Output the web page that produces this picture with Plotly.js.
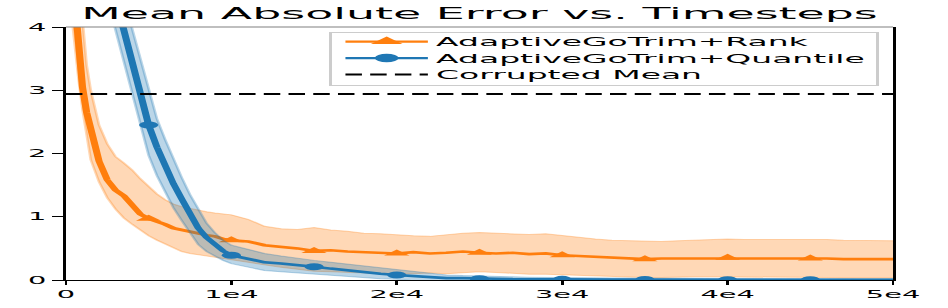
<!DOCTYPE html>
<html>
<head>
<meta charset="utf-8">
<script src="https://cdn.plot.ly/plotly-3.0.1.min.js"></script>
<style>
html,body{margin:0;padding:0;background:#fff;overflow:hidden;}
#wrap{width:948px;height:308px;overflow:hidden;position:relative;}
#plot{width:345px;height:308px;transform:scaleX(2.7478);transform-origin:0 0;}
</style>
</head>
<body>
<div id="wrap"><div id="plot"></div></div>
<script>
// Timesteps
const steps = [0,250,500,750,1000,1250,1500,2000,2500,3000,3500,4000,4500,5000,5500,6000,6500,7000,7500,8000,8500,9000,9500,10000,
  11000,12000,13000,14000,15000,16000,17000,18000,19000,20000,
  21000,22000,23000,24000,25000,26000,27000,28000,29000,30000,
  31000,32000,33000,34000,35000,36000,37000,38000,39000,40000,
  41000,42000,43000,44000,45000,46000,47000,48000,49000,50000];

// AdaptiveGoTrim+Rank
const rankMean = [6.0,5.2,4.4,3.6,3.05,2.65,2.35,1.88,1.58,1.42,1.33,1.2,1.04,0.97,0.93,0.88,0.82,0.79,0.77,0.74,0.71,0.69,0.65,0.63,
  0.61,0.55,0.53,0.50,0.46,0.47,0.45,0.44,0.43,0.42,
  0.44,0.42,0.43,0.45,0.43,0.42,0.43,0.41,0.42,0.39,
  0.38,0.37,0.35,0.34,0.33,0.34,0.34,0.35,0.35,0.35,
  0.35,0.34,0.35,0.35,0.34,0.34,0.33,0.33,0.33,0.33];
const rankUpper = [7.0,6.2,5.4,4.6,3.95,3.4,3.0,2.45,2.15,1.95,1.85,1.74,1.6,1.47,1.36,1.27,1.2,1.16,1.13,1.1,1.08,1.06,1.04,1.03,
  0.96,0.85,0.81,0.80,0.83,0.79,0.77,0.74,0.73,0.71,
  0.70,0.69,0.72,0.74,0.75,0.74,0.73,0.72,0.73,0.70,
  0.68,0.65,0.63,0.62,0.61,0.61,0.62,0.63,0.63,0.65,
  0.64,0.64,0.65,0.64,0.64,0.64,0.63,0.63,0.62,0.62];
const rankLower = [5.0,4.3,3.6,3.2,2.7,2.2,1.9,1.55,1.3,1.12,0.98,0.88,0.78,0.7,0.63,0.57,0.5,0.45,0.42,0.40,0.37,0.35,0.33,0.32,
  0.28,0.24,0.20,0.17,0.14,0.13,0.12,0.10,0.10,0.09,
  0.10,0.11,0.10,0.12,0.13,0.12,0.10,0.09,0.09,0.08,
  0.07,0.06,0.05,0.05,0.04,0.04,0.05,0.05,0.05,0.05,
  0.05,0.04,0.04,0.04,0.04,0.04,0.03,0.03,0.03,0.03];

// AdaptiveGoTrim+Quantile
const quantMean = [7.8,7.5,7.2,6.9,6.6,6.3,6.05,5.5,4.95,4.45,3.95,3.45,2.95,2.45,2.1,1.8,1.52,1.28,1.05,0.82,0.67,0.55,0.46,0.39,
  0.33,0.28,0.26,0.24,0.21,0.18,0.15,0.13,0.10,0.08,
  0.06,0.04,0.03,0.03,0.02,0.02,0.015,0.012,0.01,0.01,
  0.01,0.008,0.008,0.007,0.007,0.006,0.006,0.006,0.005,0.005,
  0.005,0.005,0.004,0.004,0.004,0.004,0.004,0.003,0.003,0.003];
const quantUpper = [8.3,8.0,7.7,7.4,7.1,6.8,6.55,6.0,5.45,4.95,4.45,3.95,3.45,2.93,2.55,2.22,1.9,1.62,1.35,1.1,0.9,0.75,0.63,0.55,
  0.48,0.42,0.38,0.34,0.31,0.28,0.25,0.22,0.19,0.16,
  0.13,0.10,0.08,0.07,0.06,0.055,0.05,0.045,0.04,0.04,
  0.035,0.035,0.03,0.03,0.03,0.028,0.026,0.025,0.025,0.024,
  0.023,0.022,0.022,0.021,0.02,0.02,0.02,0.019,0.018,0.018];
const quantLower = [7.3,7.0,6.7,6.4,6.1,5.8,5.55,5.0,4.45,3.95,3.45,2.95,2.45,1.97,1.65,1.38,1.14,0.94,0.75,0.56,0.45,0.37,0.31,0.26,
  0.2,0.15,0.13,0.11,0.09,0.07,0.05,0.04,0.02,0.01,
  -0.01,-0.01,-0.01,-0.01,-0.01,-0.01,-0.01,-0.01,-0.01,-0.01,
  -0.01,-0.01,-0.01,-0.01,-0.01,-0.01,-0.01,-0.01,-0.01,-0.01,
  -0.01,-0.01,-0.01,-0.01,-0.01,-0.01,-0.01,-0.01,-0.01,-0.01];

// Marker positions and the horizontal reference
const markerSteps = [0,5000,10000,15000,20000,25000,30000,35000,40000,45000];
const corruptedMean = 2.94;
const xTickVals = [0,10000,20000,30000,40000,50000];
const xTickText = ['0','1e4','2e4','3e4','4e4','5e4'];
const yTickVals = [0,1,2,3,4];
const seriesNames = ['AdaptiveGoTrim+Rank','AdaptiveGoTrim+Quantile','Corrupted Mean'];

const ORANGE = '#ff7f0e', BLUE = '#1f77b4';
const ORANGE_A = 'rgba(255,127,14,0.3)', BLUE_A = 'rgba(31,119,180,0.3)';
const FONT = 'DejaVu Sans, sans-serif';

function pick(arr){ return markerSteps.map(s => arr[steps.indexOf(s)]); }

const traces = [
  // legend-only entries
  {x:[null], y:[null], mode:'lines+markers', name:seriesNames[0], line:{color:ORANGE, width:2.2},
   marker:{symbol:'triangle-up', size:10, color:ORANGE}},
  {x:[null], y:[null], mode:'lines+markers', name:seriesNames[1], line:{color:BLUE, width:2.2},
   marker:{symbol:'circle', size:8.5, color:BLUE}},
  {x:[null], y:[null], mode:'lines', name:seriesNames[2], line:{color:'#000', width:2, dash:'6px,3px'}},
  // Rank
  {x:steps, y:rankMean, mode:'lines', line:{color:ORANGE, width:2.6}, showlegend:false},
  {x:steps, y:rankLower, mode:'lines', line:{color:ORANGE_A, width:1}, showlegend:false},
  {x:steps, y:rankUpper, mode:'lines', line:{color:ORANGE_A, width:1}, fill:'tonexty', fillcolor:ORANGE_A, showlegend:false},
  {x:markerSteps, y:pick(rankMean), mode:'markers', marker:{symbol:'triangle-up', size:8, color:ORANGE}, showlegend:false},
  // Quantile
  {x:steps, y:quantMean, mode:'lines', line:{color:BLUE, width:2.6}, showlegend:false},
  {x:steps, y:quantLower, mode:'lines', line:{color:BLUE_A, width:1}, showlegend:false},
  {x:steps, y:quantUpper, mode:'lines', line:{color:BLUE_A, width:1}, fill:'tonexty', fillcolor:BLUE_A, showlegend:false},
  {x:markerSteps, y:pick(quantMean), mode:'markers', marker:{symbol:'circle', size:7, color:BLUE}, showlegend:false},
  // Corrupted mean
  {x:[0,50000], y:[corruptedMean, corruptedMean], mode:'lines', line:{color:'#000', width:2, dash:'6px,3px'}, showlegend:false}
];

const layout = {
  width:345, height:308,
  margin:{l:24, r:20, t:27, b:28},
  paper_bgcolor:'#fff', plot_bgcolor:'#fff',
  font:{family:FONT, color:'#000'},
  title:{text:'Mean Absolute Error vs. Timesteps', font:{family:FONT, size:16.7, color:'#000'},
         x:0.5, xref:'paper', xanchor:'center', y:1-13.3/308, yref:'container', yanchor:'middle'},
  xaxis:{range:[0,50000], tickmode:'array', tickvals:xTickVals, ticktext:xTickText,
         showgrid:false, zeroline:false, showline:true, linecolor:'#000', linewidth:1,
         ticks:'outside', ticklen:4, tickwidth:1, tickcolor:'#000', tickfont:{family:FONT, size:10.5, color:'#000'}},
  yaxis:{range:[0,4], tickmode:'array', tickvals:yTickVals,
         showgrid:false, zeroline:false, showline:true, mirror:true, linecolor:'#000', linewidth:1,
         ticks:'outside', ticklen:4, tickwidth:1, tickcolor:'#000', tickfont:{family:FONT, size:10.5, color:'#000'}},
  legend:{x:0.318, y:0.982, xanchor:'left', yanchor:'top', traceorder:'normal', bgcolor:'rgba(255,255,255,0.8)',
          bordercolor:'#cccccc', borderwidth:1, font:{family:FONT, size:12, color:'#000'}},
  shapes:[{type:'line', xref:'paper', yref:'paper', x0:0, x1:1, y0:1, y1:1, line:{color:'#808080', width:1}}]
};

const gd = document.getElementById('plot');
Plotly.newPlot(gd, traces, layout, {staticPlot:true, displayModeBar:false}).then(() => {
  // tighten legend row spacing to match the reference
  const items = gd.querySelectorAll('.legend .traces');
  const rowGap = 16.5;
  let y0 = null;
  items.forEach((g, i) => {
    const m = /translate\(\s*([-\d.e]+)[ ,]+([-\d.e]+)\s*\)/.exec(g.getAttribute('transform') || '');
    if (!m) return;
    const x = parseFloat(m[1]);
    if (y0 === null) y0 = parseFloat(m[2]) - 5.5;
    g.setAttribute('transform', 'translate(' + x + ',' + (y0 + i * rowGap) + ')');
    const t = g.querySelector('text.legendtext');
    if (t) t.setAttribute('x', parseFloat(t.getAttribute('x') || 40) - 2);
  });
  const bg = gd.querySelector('.legend rect.bg');
  if (bg) {
    bg.setAttribute('height', 53);
    const w = parseFloat(bg.getAttribute('width'));
    if (w) bg.setAttribute('width', w - 4);
  }
});
</script>
</body>
</html>
